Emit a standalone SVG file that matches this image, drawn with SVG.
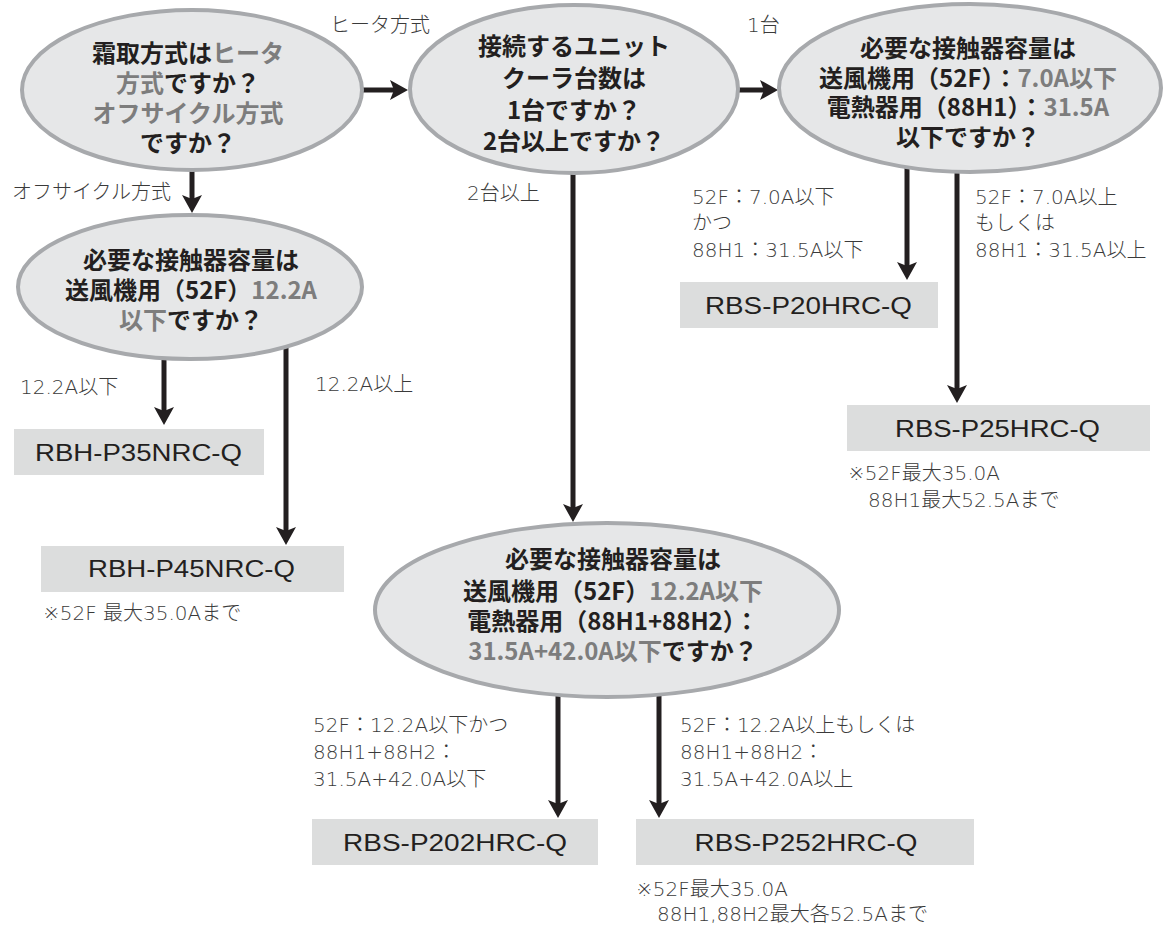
<svg xmlns="http://www.w3.org/2000/svg" width="1172" height="927" viewBox="0 0 1172 927">
<style>
.bg{fill:#ffffff}
.oval{fill:#e6e7e8;stroke:#a7a9ac;stroke-width:4}
.box{fill:#dcdddd}
.q{font-family:"Noto Sans CJK JP","Noto Sans",sans-serif;font-size:24px;font-weight:700;fill:#231f20;text-anchor:middle}
.g{fill:#7d7d7d}
.lbl{font-family:"DejaVu Sans","Noto Sans CJK JP",sans-serif;font-size:20px;font-weight:300;fill:#3a3a3a}
.model{font-family:"Liberation Sans",Arial,sans-serif;font-size:24px;fill:#231f20;text-anchor:middle}
.conn{stroke:#231f20;stroke-width:5;fill:none;marker-end:url(#ah)}
</style>
<defs>
<marker id="ah" viewBox="0 0 18 20" markerWidth="18" markerHeight="20" markerUnits="userSpaceOnUse" refX="8" refY="10" orient="auto">
<path d="M0,0 L18,10 L0,20 L4,10 Z" fill="#231f20"/>
</marker>
</defs>
<rect class="bg" x="0" y="0" width="1172" height="927"/>

<g id="connectors">
<path class="conn" d="M360,90 H398"/>
<path class="conn" d="M734,90 H768"/>
<path class="conn" d="M192,165 V203"/>
<path class="conn" d="M573,168 V512"/>
<path class="conn" d="M907,163 V270"/>
<path class="conn" d="M957,166 V393"/>
<path class="conn" d="M164,354 V415"/>
<path class="conn" d="M286,342 V535"/>
<path class="conn" d="M558,690 V808"/>
<path class="conn" d="M659,690 V808"/>
</g>

<g id="edge-labels">
<text class="lbl" x="330" y="32">ヒータ方式</text>
<text class="lbl" x="747" y="32">1台</text>
<text class="lbl" x="12" y="199">オフサイクル方式</text>
<text class="lbl" x="467" y="200">2台以上</text>
<text class="lbl" x="20" y="394">12.2A以下</text>
<text class="lbl" x="315" y="391">12.2A以上</text>
<text class="lbl"><tspan x="692" y="204">52F：7.0A以下</tspan><tspan x="692" y="230">かつ</tspan><tspan x="692" y="257">88H1：31.5A以下</tspan></text>
<text class="lbl"><tspan x="975" y="204">52F：7.0A以上</tspan><tspan x="975" y="230">もしくは</tspan><tspan x="975" y="257">88H1：31.5A以上</tspan></text>
<text class="lbl"><tspan x="313" y="732">52F：12.2A以下かつ</tspan><tspan x="313" y="759">88H1+88H2：</tspan><tspan x="313" y="786">31.5A+42.0A以下</tspan></text>
<text class="lbl"><tspan x="680" y="732">52F：12.2A以上もしくは</tspan><tspan x="680" y="759">88H1+88H2：</tspan><tspan x="680" y="786">31.5A+42.0A以上</tspan></text>
</g>

<g id="q-defrost">
<ellipse class="oval" cx="192" cy="90" rx="170" ry="80"/>
<text class="q"><tspan x="188" y="62">霜取方式は<tspan class="g">ヒータ</tspan></tspan><tspan x="188" y="92"><tspan class="g">方式</tspan>ですか？</tspan><tspan x="188" y="122" class="g">オフサイクル方式</tspan><tspan x="188" y="152">ですか？</tspan></text>
</g>

<g id="q-units">
<ellipse class="oval" cx="574" cy="89" rx="164" ry="84"/>
<text class="q"><tspan x="574" y="55">接続するユニット</tspan><tspan x="574" y="87">クーラ台数は</tspan><tspan x="574" y="119">1台ですか？</tspan><tspan x="574" y="150">2台以上ですか？</tspan></text>
</g>

<g id="q-cap1">
<ellipse class="oval" cx="970" cy="88" rx="191" ry="84"/>
<text class="q"><tspan x="968" y="57">必要な接触器容量は</tspan><tspan x="968" y="87">送風機用（52F）：<tspan class="g">7.0A以下</tspan></tspan><tspan x="968" y="116">電熱器用（88H1）：<tspan class="g">31.5A</tspan></tspan><tspan x="968" y="146">以下ですか？</tspan></text>
</g>

<g id="q-offcycle">
<ellipse class="oval" cx="190" cy="287" rx="172" ry="72"/>
<text class="q"><tspan x="191" y="269">必要な接触器容量は</tspan><tspan x="191" y="299">送風機用（52F）<tspan class="g">12.2A</tspan></tspan><tspan x="191" y="329"><tspan class="g">以下</tspan>ですか？</tspan></text>
</g>

<g id="q-cap2">
<ellipse class="oval" cx="607" cy="610" rx="232" ry="87"/>
<text class="q"><tspan x="613" y="568">必要な接触器容量は</tspan><tspan x="613" y="600">送風機用（52F）<tspan class="g">12.2A以下</tspan></tspan><tspan x="613" y="630">電熱器用（88H1+88H2）：</tspan><tspan x="613" y="660"><tspan class="g">31.5A+42.0A以下</tspan>ですか？</tspan></text>
</g>

<g id="m-p35">
<rect class="box" x="14" y="429" width="250" height="46"/>
<text class="model" x="138.5" y="461" textLength="207" lengthAdjust="spacingAndGlyphs">RBH-P35NRC-Q</text>
</g>

<g id="m-p45">
<rect class="box" x="41" y="546" width="303" height="46"/>
<text class="model" x="191.5" y="577" textLength="207" lengthAdjust="spacingAndGlyphs">RBH-P45NRC-Q</text>
<text class="lbl" x="43" y="620">※52F 最大35.0Aまで</text>
</g>

<g id="m-p20">
<rect class="box" x="680" y="282" width="258" height="46"/>
<text class="model" x="808.5" y="314" textLength="207" lengthAdjust="spacingAndGlyphs">RBS-P20HRC-Q</text>
</g>

<g id="m-p25">
<rect class="box" x="847" y="405" width="303" height="46"/>
<text class="model" x="997.5" y="437" textLength="205" lengthAdjust="spacingAndGlyphs">RBS-P25HRC-Q</text>
<text class="lbl"><tspan x="848" y="480">※52F最大35.0A</tspan><tspan x="868" y="507">88H1最大52.5Aまで</tspan></text>
</g>

<g id="m-p202">
<rect class="box" x="312" y="819" width="286" height="46"/>
<text class="model" x="455" y="851" textLength="224" lengthAdjust="spacingAndGlyphs">RBS-P202HRC-Q</text>
</g>

<g id="m-p252">
<rect class="box" x="636" y="819" width="338" height="46"/>
<text class="model" x="806" y="851" textLength="223" lengthAdjust="spacingAndGlyphs">RBS-P252HRC-Q</text>
<text class="lbl"><tspan x="636" y="896">※52F最大35.0A</tspan><tspan x="657" y="921">88H1,88H2最大各52.5Aまで</tspan></text>
</g>
</svg>
